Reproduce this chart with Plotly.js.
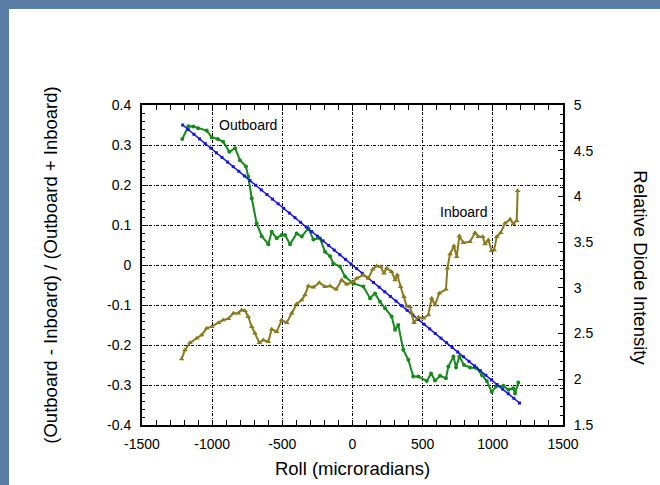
<!DOCTYPE html>
<html><head><meta charset="utf-8">
<script src="https://cdn.plot.ly/plotly-3.0.1.min.js"></script>
<style>
html,body{margin:0;padding:0;width:660px;height:485px;overflow:hidden;background:#5b7ea8;}
#chart{position:absolute;left:9px;top:9px;width:651px;height:476px;}
</style></head><body><div id="chart"></div>
<script>
// Fit line (left axis)
const fitX = [-1210,-1170,-1130,-1090,-1050,-1010,-970,-930,-890,-850,-810,-770,-730,-690,-650,-610,-570,-530,-490,-450,-410,-370,-330,-290,-250,-210,-170,-130,-90,-50,-10,30,70,110,150,190,230,270,310,350,390,430,470,510,550,590,630,670,710,750,790,830,870,910,950,990,1030,1070,1110,1150,1190];
const fitY = [0.350,0.3384,0.3268,0.3153,0.3037,0.2921,0.2805,0.2689,0.2573,0.2458,0.2342,0.2226,0.2110,0.1994,0.1878,0.1763,0.1647,0.1531,0.1415,0.1299,0.1183,0.1068,0.0952,0.0836,0.0720,0.0604,0.0488,0.0373,0.0257,0.0141,0.0025,-0.0091,-0.0207,-0.0323,-0.0438,-0.0554,-0.0670,-0.0786,-0.0902,-0.1018,-0.1133,-0.1249,-0.1365,-0.1481,-0.1597,-0.1713,-0.1828,-0.1944,-0.2060,-0.2176,-0.2292,-0.2408,-0.2523,-0.2639,-0.2755,-0.2871,-0.2987,-0.3103,-0.3218,-0.3334,-0.3450];

// Difference ratio (left axis)
const ratioX = [-1213,-1170,-1135,-1100,-1039,-1003,-960,-921,-878,-837,-802,-759,-743,-718,-683,-647,-600,-576,-540,-505,-481,-445,-398,-362,-315,-279,-232,-196,-160,-137,-89,-53,6,77,125,160,196,232,279,303,326,362,398,433,469,529,560,588,624,666,683,719,738,761,795,837,885,921,957,992,1023,1075,1111,1146,1158,1182];
const ratioY = [0.315,0.347,0.346,0.342,0.336,0.319,0.315,0.308,0.283,0.292,0.262,0.246,0.221,0.167,0.104,0.072,0.052,0.083,0.067,0.075,0.075,0.052,0.079,0.071,0.092,0.064,0.067,0.033,0.022,0.004,-0.004,-0.029,-0.046,-0.054,-0.083,-0.071,-0.092,-0.108,-0.129,-0.162,-0.150,-0.212,-0.237,-0.279,-0.279,-0.290,-0.271,-0.289,-0.277,-0.283,-0.254,-0.229,-0.256,-0.229,-0.250,-0.256,-0.258,-0.275,-0.290,-0.317,-0.304,-0.302,-0.312,-0.308,-0.321,-0.294];

// Inboard diode intensity (right axis)
const inX = [-1218,-1194,-1158,-1110,-1075,-1039,-1003,-956,-921,-885,-849,-814,-790,-766,-743,-718,-695,-664,-636,-600,-576,-540,-505,-469,-433,-398,-362,-339,-315,-279,-236,-196,-160,-117,-77,-41,6,30,77,113,144,172,201,224,244,279,303,319,343,367,386,410,422,438,469,505,540,564,588,619,666,676,695,723,743,761,790,837,873,897,928,944,968,992,1009,1028,1056,1087,1123,1146,1170,1177];
const inY = [2.222,2.32,2.40,2.448,2.484,2.557,2.575,2.619,2.648,2.663,2.722,2.722,2.758,2.750,2.685,2.575,2.503,2.400,2.430,2.411,2.547,2.521,2.648,2.619,2.722,2.823,2.867,2.922,3.020,3.006,3.057,3.013,3.020,2.984,3.086,3.039,3.067,3.105,3.140,3.105,3.203,3.239,3.230,3.160,3.214,3.177,3.086,3.140,3.013,2.903,2.800,2.794,2.722,2.619,2.678,2.667,2.703,2.886,2.813,2.941,2.984,3.214,3.370,3.458,3.340,3.567,3.494,3.505,3.603,3.560,3.560,3.480,3.523,3.406,3.414,3.560,3.603,3.706,3.750,3.698,3.735,4.063];

const xTickVals = [-1500,-1000,-500,0,500,1000,1500];
const xTickText = ["-1500","-1000","-500","0","500","1000","1500"];
const yTickVals = [-0.4,-0.3,-0.2,-0.1,0,0.1,0.2,0.3,0.4];
const yTickText = ["-0.4","-0.3","-0.2","-0.1","0","0.1","0.2","0.3","0.4"];
const y2TickVals = [1.5,2,2.5,3,3.5,4,4.5,5];
const y2TickText = ["1.5","2","2.5","3","3.5","4","4.5","5"];

const labelOut = "Outboard";
const labelIn = "Inboard";
const xTitle = "Roll (microradians)";
const yTitle = "(Outboard - Inboard) / (Outboard + Inboard)";
const y2Title = "Relative Diode Intensity";

const FONT = "Liberation Sans, Arial, sans-serif";
const DASH = "3px,1.5px,1px,1.5px";

const traces = [
  {x: ratioX, y: ratioY, type:'scatter', mode:'lines+markers',
   line:{color:'#168a1a', width:2}, marker:{color:'#168a1a', size:4, symbol:'circle'}, yaxis:'y'},
  {x: fitX, y: fitY, type:'scatter', mode:'lines+markers',
   line:{color:'#1414e6', width:1.5}, marker:{color:'#1414e6', size:3, symbol:'square'}, yaxis:'y'},
  {x: inX, y: inY, type:'scatter', mode:'lines+markers',
   line:{color:'#8a7a1c', width:2}, marker:{color:'#8a7a1c', size:5, symbol:'triangle-up'}, yaxis:'y2'}
];

const gridCfg = {showgrid:true, gridcolor:'#000', gridwidth:1, griddash:DASH};

const layout = {
  width:651, height:476,
  margin:{l:133, r:97, t:96, b:60},
  paper_bgcolor:'#ffffff', plot_bgcolor:'#ffffff',
  showlegend:false,
  font:{family:FONT, color:'#000', size:14},
  xaxis: Object.assign({
    range:[-1500,1500], tickmode:'array', tickvals:xTickVals, ticktext:xTickText,
    ticks:'inside', ticklen:5, tickcolor:'#000', zeroline:false,
    showline:true, linecolor:'#000', linewidth:2, mirror:'allticks',
    minor:{dtick:100, tick0:0, ticks:'inside', ticklen:3, tickcolor:'#000', showgrid:false},
    tickfont:{size:14, family:FONT}, ticklabelstandoff:5,
    title:{text:xTitle, font:{size:18.5, family:FONT}, standoff:11}
  }, gridCfg),
  yaxis: Object.assign({
    range:[-0.4,0.4], tickmode:'array', tickvals:yTickVals, ticktext:yTickText,
    ticks:'inside', ticklen:5, tickcolor:'#000', zeroline:false,
    showline:true, linecolor:'#000', linewidth:2, mirror:false,
    minor:{dtick:0.02, tick0:0, ticks:'inside', ticklen:3, tickcolor:'#000', showgrid:false},
    tickfont:{size:14, family:FONT}, ticklabelstandoff:6,
    title:{text:yTitle, font:{size:18.5, family:FONT}, standoff:45}
  }, gridCfg),
  yaxis2: {
    overlaying:'y', side:'right', range:[1.5,5],
    tickmode:'array', tickvals:y2TickVals, ticktext:y2TickText,
    ticks:'inside', ticklen:5, tickcolor:'#000', showgrid:false, zeroline:false,
    showline:true, linecolor:'#000', linewidth:2,
    minor:{dtick:0.1, tick0:0, ticks:'inside', ticklen:3, tickcolor:'#000', showgrid:false},
    tickfont:{size:14, family:FONT}, ticklabelstandoff:6
  },
  annotations:[
    {x:-745, y:0.35, xref:'x', yref:'y', text:labelOut, showarrow:false, font:{size:14, family:FONT, color:'#000'}},
    {x:791, y:0.1325, xref:'x', yref:'y', text:labelIn, showarrow:false, font:{size:14, family:FONT, color:'#000'}},
    {x:1.185, y:0.49, xref:'paper', yref:'paper', text:y2Title, textangle:90, showarrow:false,
     xanchor:'center', yanchor:'middle', font:{size:18.5, family:FONT, color:'#000'}}
  ]
};

Plotly.newPlot('chart', traces, layout, {displayModeBar:false, staticPlot:true});
</script></body></html>
